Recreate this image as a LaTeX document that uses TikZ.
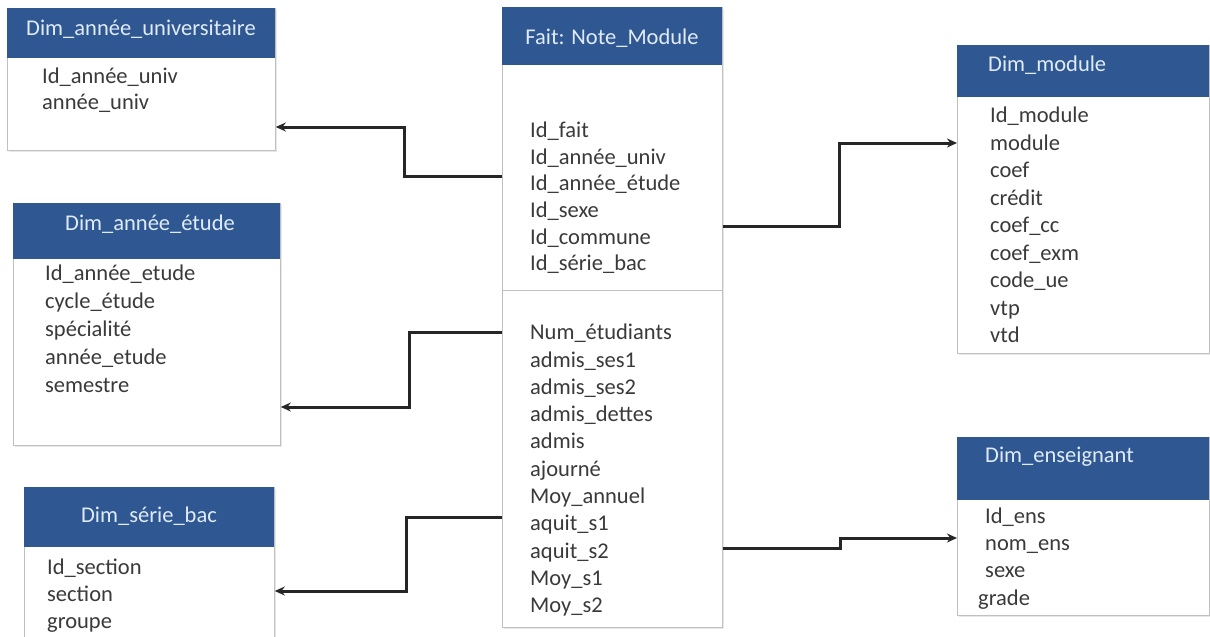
\documentclass[tikz,border=0pt]{standalone}
\usepackage{fontspec}
\setmainfont{Carlito}
\usetikzlibrary{arrows.meta,shadows}

\definecolor{hdr}{RGB}{47,88,146}
\definecolor{frame}{RGB}{192,192,192}
\definecolor{ink}{RGB}{58,58,58}
\definecolor{hdrtext}{RGB}{225,235,247}

\tikzset{
  table/.style={draw=frame, line width=0.8pt, fill=white, inner sep=0pt, anchor=north west,
    drop shadow={shadow xshift=1.5pt, shadow yshift=-1.5pt, opacity=0.18}},
  head/.style={fill=hdr, inner sep=0pt, anchor=north west},
  title/.style={text=hdrtext, font=\fontsize{22.5}{27}\selectfont, inner sep=0pt,
    text height=0.75em, text depth=0.2em},
  field/.style={text=ink, font=\fontsize{22.5}{27}\selectfont, anchor=west, inner sep=0pt,
    text height=0.75em, text depth=0.2em},
  rule/.style={draw=frame, line width=0.8pt},
  link/.style={draw=black!85, line width=3pt, line join=miter,
    -{Stealth[length=10pt,width=9pt]}}
}

\begin{document}
\begin{tikzpicture}[x=1pt,y=-1pt]
\useasboundingbox (0,0) rectangle (1210,637);

% ---- dimension: année universitaire
\node[table, minimum width=268pt, minimum height=142pt] (univ) at (7,8) {};
\node[head, minimum width=268pt, minimum height=50pt] (univh) at (7,8) {};
\node[title] (univt) at (141,33) {Dim\_année\_universitaire};
\foreach \t [count=\i] in {Id\_année\_univ, année\_univ}
  \node[field] (univf\i) at (42,{81+25.5*(\i-1)}) {\t};

% ---- dimension: année étude
\node[table, minimum width=267pt, minimum height=242pt] (etude) at (13,203) {};
\node[head, minimum width=267pt, minimum height=56pt] (etudeh) at (13,203) {};
\node[title] (etudet) at (150,228) {Dim\_année\_étude};
\foreach \t [count=\i] in {Id\_année\_etude, cycle\_étude, spécialité, année\_etude, semestre}
  \node[field] (etudef\i) at (45,{278+28*(\i-1)}) {\t};

% ---- dimension: série bac
\node[table, minimum width=250pt, minimum height=150pt] (bac) at (24,487) {};
\node[head, minimum width=250pt, minimum height=60pt] (bach) at (24,487) {};
\node[title] (bact) at (149,520) {Dim\_série\_bac};
\foreach \t [count=\i] in {Id\_section, section, groupe}
  \node[field] (bacf\i) at (47,{572+27*(\i-1)}) {\t};

% ---- fact table
\node[table, minimum width=220pt, minimum height=620pt] (fact) at (502,7) {};
\node[head, minimum width=220pt, minimum height=58pt] (facth) at (502,7) {};
\node[title] (factt) at (612,42) {Fait: Note\_Module};
\coordinate (ydiv) at (0,290);
\draw[rule] (fact.west |- ydiv) -- (fact.east |- ydiv);
\foreach \t [count=\i] in {Id\_fait, Id\_année\_univ, Id\_année\_étude, Id\_sexe, Id\_commune, Id\_série\_bac}
  \node[field] (factk\i) at (530,{135+26.6*(\i-1)}) {\t};
\foreach \t [count=\i] in {Num\_étudiants, admis\_ses1, admis\_ses2, admis\_dettes, admis, ajourné,
    Moy\_annuel, aquit\_s1, aquit\_s2, Moy\_s1, Moy\_s2}
  \node[field] (factm\i) at (530,{337+27.3*(\i-1)}) {\t};

% ---- dimension: module
\node[table, minimum width=252pt, minimum height=308pt] (mod) at (957,45) {};
\node[head, minimum width=252pt, minimum height=52pt] (modh) at (957,45) {};
\node[title, anchor=west] (modt) at (988,69) {Dim\_module};
\foreach \t [count=\i] in {Id\_module, module, coef, crédit, coef\_cc, coef\_exm, code\_ue, vtp, vtd}
  \node[field] (modf\i) at (990,{120+27.5*(\i-1)}) {\t};

% ---- dimension: enseignant
\node[table, minimum width=252pt, minimum height=178pt] (ens) at (957,437) {};
\node[head, minimum width=252pt, minimum height=63pt] (ensh) at (957,437) {};
\node[title, anchor=west] (enst) at (985,460) {Dim\_enseignant};
\node[field] (ensf1) at (985,521) {Id\_ens};
\node[field] (ensf2) at (985,548) {nom\_ens};
\node[field] (ensf3) at (985,575) {sexe};
\node[field] (ensf4) at (978,603) {grade};

% ---- links from the fact table to the dimensions
\coordinate (y127) at (0,127);
\coordinate (y176) at (0,176);
\coordinate (y332) at (0,332);
\coordinate (y407) at (0,407);
\coordinate (y517) at (0,517);
\coordinate (y591) at (0,591);
\coordinate (y226) at (0,226);
\coordinate (y143) at (0,143);
\coordinate (y548) at (0,548);
\coordinate (y538) at (0,538);

\draw[link] (fact.west |- y176) -- ++(-98,0) |- (univ.east |- y127);
\draw[link] (fact.west |- y332) -- ++(-93,0) |- (etude.east |- y407);
\draw[link] (fact.west |- y517) -- ++(-96,0) |- (bac.east |- y591);
\draw[link] (fact.east |- y226) -- ++(117,0) |- (mod.west |- y143);
\draw[link] (fact.east |- y548) -- ++(118,0) |- (ens.west |- y538);
\end{tikzpicture}
\end{document}
